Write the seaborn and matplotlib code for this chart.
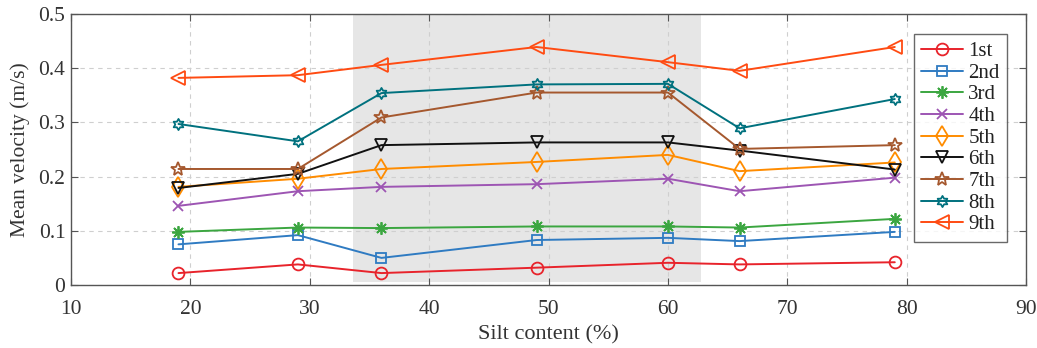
import numpy as np
import pandas as pd
import seaborn as sns
import matplotlib
matplotlib.use("Agg")
import matplotlib.pyplot as plt
from matplotlib.path import Path

# Silt content of the tested mixtures (%)
silt = [19, 29, 36, 49, 60, 66, 79]

# Mean velocity (m/s) for each run
v1 = [0.022, 0.038, 0.022, 0.032, 0.041, 0.038, 0.042]
v2 = [0.075, 0.092, 0.050, 0.083, 0.087, 0.081, 0.098]
v3 = [0.098, 0.106, 0.105, 0.108, 0.108, 0.106, 0.122]
v4 = [0.146, 0.173, 0.181, 0.186, 0.196, 0.173, 0.198]
v5 = [0.181, 0.196, 0.214, 0.227, 0.240, 0.210, 0.226]
v6 = [0.179, 0.205, 0.258, 0.263, 0.263, 0.248, 0.213]
v7 = [0.214, 0.214, 0.309, 0.355, 0.355, 0.251, 0.258]
v8 = [0.297, 0.265, 0.354, 0.370, 0.371, 0.289, 0.343]
v9 = [0.382, 0.387, 0.406, 0.439, 0.411, 0.395, 0.439]

runs = ["1st", "2nd", "3rd", "4th", "5th", "6th", "7th", "8th", "9th"]
series = [v1, v2, v3, v4, v5, v6, v7, v8, v9]

# Shaded silt-content band
band = [33.6, 62.8]

df = pd.DataFrame({
    "silt": np.tile(silt, len(runs)),
    "velocity": np.concatenate(series),
    "run": np.repeat(runs, len(silt)),
})

colors = ["#e8232b", "#2f7bc2", "#3ba640", "#9d55b3", "#ff8c00",
          "#111111", "#a5582e", "#00717e", "#ff4b12"]

# six-pointed star (hexagram) marker
ang = np.linspace(0, 2 * np.pi, 13)[:-1] + np.pi / 2
rad = np.where(np.arange(12) % 2 == 0, 1.0, 0.58)
hexagram = Path(np.column_stack([rad * np.cos(ang), rad * np.sin(ang)]).tolist()
                + [[0, 1.0]], closed=True)
asterisk = (8, 2, 0)

markers = ["o", "s", asterisk, "x", "d", "v", "*", hexagram, "<"]
msizes = [8.5, 7, 9, 7, 10, 9, 10, 8, 10]

sns.set_style("white")
plt.rcParams["font.family"] = ["Liberation Serif", "DejaVu Serif"]
plt.rcParams["mathtext.fontset"] = "stix"

fig = plt.figure(figsize=(10.37, 3.48), dpi=100)
ax = fig.add_axes([0.0685, 0.181, 0.921, 0.779])

ax.fill_between(band, 0.005, 0.5, color="#e6e6e6", lw=0, zorder=0)

for run, col, mk, ms in zip(runs, colors, markers, msizes):
    sub = df[df["run"] == run]
    sns.lineplot(data=sub, x="silt", y="velocity", ax=ax, color=col,
                 marker=mk, markersize=ms, markerfacecolor="none",
                 markeredgecolor=col, markeredgewidth=1.3, linewidth=1.4,
                 label=run, zorder=3)

ax.set_xlim(10, 90)
ax.set_ylim(0, 0.5)
ax.set_xticks(np.arange(10, 91, 10))
ax.set_yticks([0, 0.1, 0.2, 0.3, 0.4, 0.5])
ax.set_yticklabels(["0", "0.1", "0.2", "0.3", "0.4", "0.5"])
ax.grid(True, linestyle=(0, (4, 4)), color="#cfcfcf", linewidth=0.8, zorder=1)
ax.set_axisbelow(True)

for s in ax.spines.values():
    s.set_color("#555555")
    s.set_linewidth(1.0)
ax.tick_params(direction="in", length=5, width=0.8, color="#555555",
               labelsize=15.5, labelcolor="#333333", top=True, right=True,
               bottom=True, left=True)
ax.tick_params(axis="x", pad=11)
ax.tick_params(axis="y", pad=4)

ax.set_xlabel("Silt content (%)", fontsize=16, color="#333333", labelpad=4)
ax.set_ylabel("Mean velocity (m/s)", fontsize=15.5, color="#333333", labelpad=6)

leg = ax.legend(loc="upper right", bbox_to_anchor=(0.98, 0.925), fontsize=15,
                frameon=True, fancybox=False, edgecolor="#444444",
                handlelength=2.0, handletextpad=0.25, labelspacing=0.1,
                borderpad=0.35, borderaxespad=0)
leg.get_frame().set_linewidth(1.0)
for t in leg.get_texts():
    t.set_color("#222222")

fig.savefig("out.png", dpi=100)
